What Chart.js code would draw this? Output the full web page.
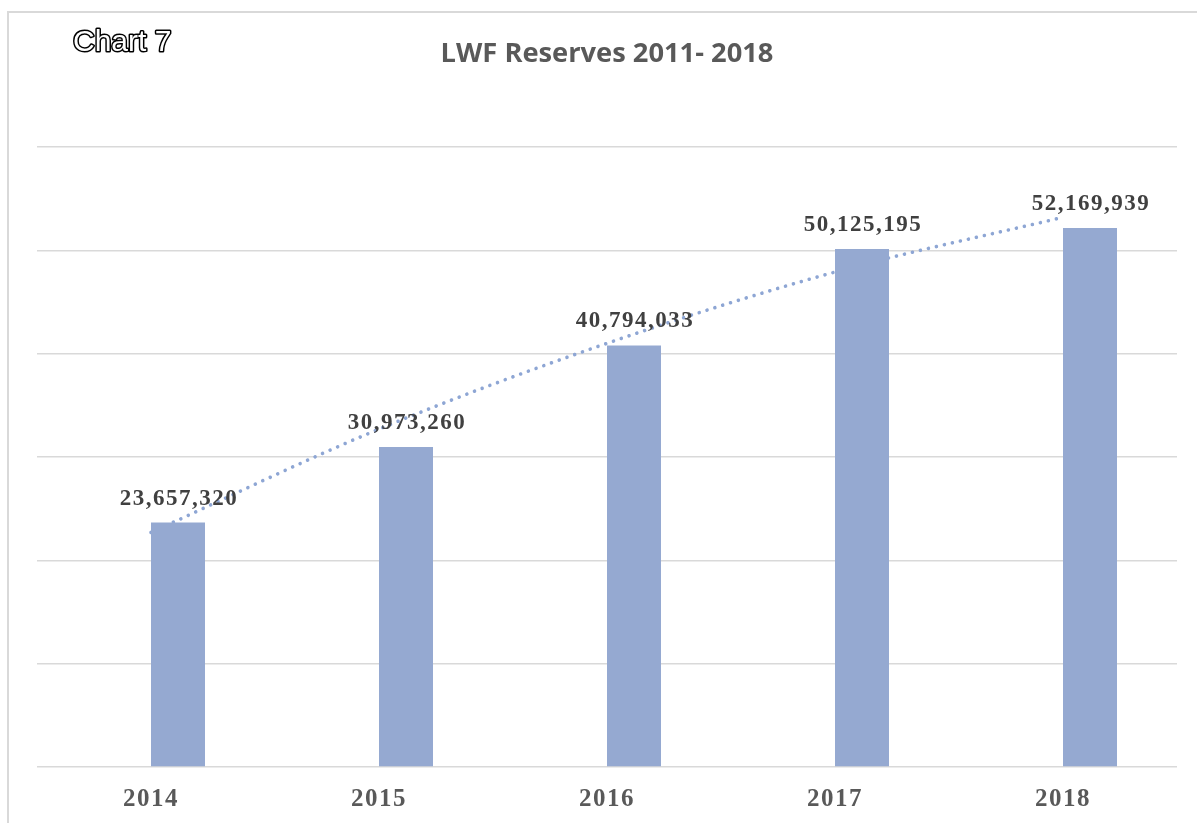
<!DOCTYPE html>
<html>
<head>
<meta charset="utf-8">
<script src="https://cdn.jsdelivr.net/npm/chart.js@4/dist/chart.umd.min.js"></script>
<style>
html,body{margin:0;padding:0;background:#fff;}
#wrap{width:1197px;height:823px;position:relative;}
</style>
</head>
<body>
<div id="wrap"><canvas id="c" width="1197" height="823"></canvas></div>
<script>
// ---- data ----
const categories = ['2014', '2015', '2016', '2017', '2018'];
const reserves = [23657320, 30973260, 40794033, 50125195, 52169939];
const trendValues = [22700000, 32700000, 41000000, 47900000, 53200000];
const yTicks = [0, 10000000, 20000000, 30000000, 40000000, 50000000, 60000000];
const chartTitle = 'LWF Reserves 2011- 2018';
const chartTag = 'Chart 7';

const emptySlots = categories.map(() => null);

const framePlugin = {
  id: 'frame',
  beforeDraw(chart) {
    const ctx = chart.ctx;
    ctx.save();
    ctx.fillStyle = '#fff';
    ctx.fillRect(0, 0, chart.width, chart.height);
    ctx.strokeStyle = '#d9d9d9';
    ctx.lineWidth = 2;
    ctx.beginPath();
    ctx.moveTo(1197, 12);
    ctx.lineTo(8, 12);
    ctx.lineTo(8, 823);
    ctx.stroke();
    ctx.restore();
    ctx.letterSpacing = '1.5px';
  },
  afterDraw(chart) {
    const ctx = chart.ctx;
    const area = chart.chartArea;
    ctx.save();
    ctx.letterSpacing = '0px';
    // title, fitted to the reference width
    let size = 25;
    ctx.font = 'bold ' + size + 'px "Open Sans"';
    const w = ctx.measureText(chartTitle).width;
    size = size * 333 / w;
    ctx.font = 'bold ' + size.toFixed(2) + 'px "Open Sans"';
    ctx.fillStyle = '#595959';
    ctx.textAlign = 'center';
    ctx.textBaseline = 'alphabetic';
    ctx.fillText(chartTitle, (area.left + area.right) / 2, 62);
    // outlined tag
    ctx.font = '30px "Liberation Sans"';
    ctx.textAlign = 'left';
    ctx.lineJoin = 'round';
    ctx.lineWidth = 3;
    ctx.strokeStyle = '#000';
    ctx.strokeText(chartTag, 73, 51);
    ctx.fillStyle = '#fff';
    ctx.fillText(chartTag, 73, 51);
    ctx.restore();
  }
};

const labelPlugin = {
  id: 'valueLabels',
  afterDatasetsDraw(chart) {
    const ctx = chart.ctx;
    const meta = chart.getDatasetMeta(1);
    ctx.save();
    ctx.letterSpacing = '1.5px';
    ctx.font = 'bold 23px "Liberation Serif"';
    ctx.fillStyle = '#404040';
    ctx.textAlign = 'center';
    ctx.textBaseline = 'alphabetic';
    meta.data.forEach((el, i) => {
      ctx.fillText(reserves[i].toLocaleString('en-US'), el.x + 1, el.y - 18);
    });
    ctx.restore();
  }
};

new Chart(document.getElementById('c'), {
  data: {
    labels: categories,
    datasets: [
      {
        type: 'bar',
        data: emptySlots,
        backgroundColor: 'rgba(0,0,0,0)',
        order: 1,
        categoryPercentage: 0.4737,
        barPercentage: 1
      },
      {
        type: 'bar',
        data: reserves,
        backgroundColor: '#95a9d1',
        order: 1,
        categoryPercentage: 0.4737,
        barPercentage: 1
      },
      {
        type: 'line',
        data: trendValues,
        borderColor: '#8ea6d4',
        borderWidth: 3.6,
        borderDash: [0.01, 8.2],
        borderCapStyle: 'round',
        pointRadius: 0,
        fill: false,
        tension: 0.4,
        cubicInterpolationMode: 'monotone',
        order: 2
      }
    ]
  },
  options: {
    responsive: false,
    animation: false,
    events: [],
    layout: { padding: { left: 37, right: 20, top: 147, bottom: 0 } },
    plugins: {
      legend: { display: false },
      title: { display: false },
      tooltip: { enabled: false }
    },
    scales: {
      x: {
        offset: true,
        grid: { display: false, drawTicks: false },
        border: { display: false },
        ticks: {
          padding: 18,
          color: '#595959',
          font: { family: 'Liberation Serif', size: 25, weight: 'bold' }
        },
        afterFit(s) { s.height = 56; }
      },
      y: {
        min: 0,
        max: 60000000,
        afterBuildTicks(s) { s.ticks = yTicks.map(v => ({ value: v })); },
        ticks: { display: false },
        grid: { color: '#d9d9d9', lineWidth: 1.5, drawTicks: false },
        border: { display: false },
        afterFit(s) { s.width = 0; }
      }
    }
  },
  plugins: [framePlugin, labelPlugin]
});
</script>
</body>
</html>
